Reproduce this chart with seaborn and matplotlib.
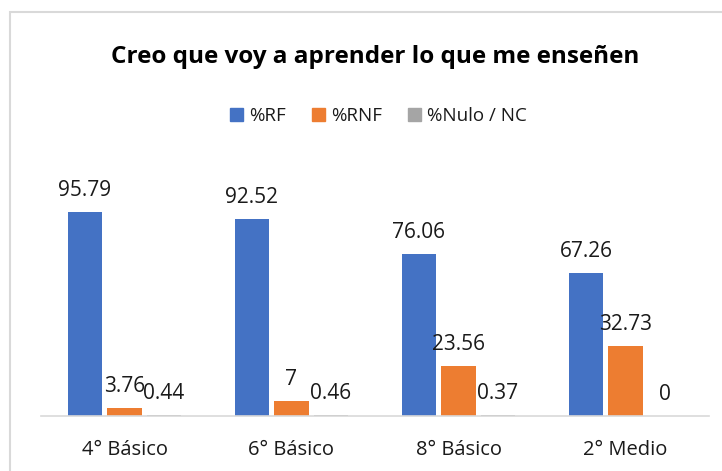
import numpy as np
import pandas as pd
import seaborn as sns
import matplotlib.pyplot as plt
from matplotlib.patches import Rectangle

categories = ['4° Básico', '6° Básico', '8° Básico', '2° Medio']
series = ['%RF', '%RNF', '%Nulo / NC']
rf = [95.79, 92.52, 76.06, 67.26]
rnf = [3.76, 7, 23.56, 32.73]
nulo = [0.44, 0.46, 0.37, 0]
colors = ['#4472C4', '#ED7D31', '#A5A5A5']

df = pd.DataFrame({
    'grupo': categories * 3,
    'serie': [series[0]] * 4 + [series[1]] * 4 + [series[2]] * 4,
    'valor': rf + rnf + nulo,
})

sns.set_theme(style='white')
plt.rcParams['font.family'] = ['Open Sans', 'DejaVu Sans']

fig = plt.figure(figsize=(7.22, 4.71), dpi=100)
ax = fig.add_axes([41 / 722, 55 / 471, 668 / 722, 212.6 / 471])

sns.barplot(data=df, x='grupo', y='valor', hue='serie', palette=colors,
            width=0.71, gap=0.12, ax=ax, legend=False, saturation=1,
            linewidth=0, edgecolor='none')

for cont in ax.containers:
    ax.bar_label(cont, fmt='{:g}', padding=8, fontsize=15, color='#1a1a1a')

ax.set_ylim(0, 100)
ax.set_xlim(-0.5, 3.5)
ax.set_xlabel('')
ax.set_ylabel('')
ax.set_yticks([])
for s in ['top', 'right', 'left']:
    ax.spines[s].set_visible(False)
ax.spines['bottom'].set_color('#D9D9D9')
ax.spines['bottom'].set_linewidth(1.2)
ax.tick_params(axis='x', length=0, pad=17, labelsize=14.5, colors='#1a1a1a')

fig.text(0.52, 1 - 57 / 471, 'Creo que voy a aprender lo que me enseñen',
         ha='center', va='center', fontsize=17.5, fontweight='bold', color='#000000')

handles = [Rectangle((0, 0), 1, 1, color=c) for c in colors]
fig.legend(handles, series, loc='center', bbox_to_anchor=(0.524, 1 - 116 / 471),
           ncol=3, frameon=False, fontsize=13.5, handlelength=0.7, handleheight=0.7,
           handletextpad=0.3, columnspacing=1.4, labelcolor='#1a1a1a')

fig.patches.append(Rectangle((10 / 722, -0.05), 1.1, 1 - 12 / 471 + 0.05,
                             transform=fig.transFigure, fill=False,
                             edgecolor='#D9D9D9', linewidth=1.5))

fig.savefig('out.png', dpi=100)
